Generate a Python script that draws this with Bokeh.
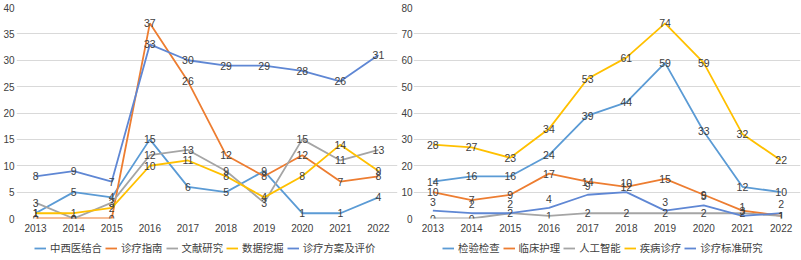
from bokeh.plotting import figure
from bokeh.models import FactorRange, Range1d, Legend, LegendItem, SingleIntervalTicker
from bokeh.layouts import row, column
from bokeh.embed import file_html
from bokeh.resources import INLINE
from bokeh.core.properties import value

years = ["2013", "2014", "2015", "2016", "2017", "2018", "2019", "2020", "2021", "2022"]

# Left chart
left_names = ["中西医结合", "诊疗指南", "文献研究", "数据挖掘", "诊疗方案及评价"]
zhongxiyi = [1, 5, 4, 15, 6, 5, 9, 1, 1, 4]
zhenliao_zhinan = [0, 0, 0, 37, 26, 12, 8, 12, 7, 8]
wenxian = [3, 0, 3, 12, 13, 9, 3, 15, 11, 13]
shuju_wajue = [1, 1, 2, 10, 11, 8, 4, 8, 14, 9]
fangan_pingjia = [8, 9, 7, 33, 30, 29, 29, 28, 26, 31]

# Right chart
right_names = ["检验检查", "临床护理", "人工智能", "疾病诊疗", "诊疗标准研究"]
jianyan = [14, 16, 16, 24, 39, 44, 59, 33, 12, 10]
huli = [10, 7, 9, 17, 14, 12, 15, 9, 3, 1]
rengong = [0, 0, 2, 1, 2, 2, 2, 2, 2, 1]
jibing = [28, 27, 23, 34, 53, 61, 74, 59, 32, 22]
biaozhun = [3, 2, 2, 4, 9, 10, 3, 5, 1, 2]

colors = ["#5B9BD5", "#ED7D31", "#A5A5A5", "#FFC000", "#5F87D4"]

NUM_FONT = "Liberation Sans"
CJK_FONT = "Noto Sans CJK SC"


def make_fig(width, ymax, interval, series, border_right, ystandoff, label_offsets):
    p = figure(width=width, height=236, x_range=FactorRange(*years),
               y_range=Range1d(0, ymax), output_backend="svg", toolbar_location=None,
               min_border_top=7, min_border_bottom=18, min_border_left=0,
               min_border_right=border_right)
    p.outline_line_color = None
    p.background_fill_color = "white"
    p.border_fill_color = "white"
    p.xgrid.grid_line_color = None
    p.ygrid.grid_line_color = "#D9D9D9"
    p.ygrid.grid_line_width = 1
    p.yaxis.ticker = SingleIntervalTicker(interval=interval)
    for ax in (p.xaxis[0], p.yaxis[0]):
        ax.axis_line_color = None
        ax.major_tick_line_color = None
        ax.minor_tick_line_color = None
        ax.major_tick_out = 0
        ax.major_tick_in = 0
        ax.minor_tick_out = 0
        ax.major_label_text_font = NUM_FONT
        ax.major_label_text_font_size = "10px"
        ax.major_label_text_color = "#404040"
    p.yaxis.major_label_standoff = ystandoff
    p.xaxis.major_label_standoff = 5
    for vals, col in zip(series, colors):
        p.line(years, vals, line_color=col, line_width=1.8)
    for vals, off in zip(series, label_offsets):
        p.text(years, vals, text=[str(v) for v in vals], text_align="center",
               text_baseline="middle", text_font=value(NUM_FONT),
               text_font_size="10.5px", text_color="#404040", y_offset=off)
    return p


def make_legend(width, names, x0):
    lp = figure(width=width, height=24, x_range=Range1d(0, 1), y_range=Range1d(0, 1),
                output_backend="svg", toolbar_location=None, min_border=0)
    lp.axis.visible = False
    lp.grid.visible = False
    lp.outline_line_color = None
    items = []
    for name, col in zip(names, colors):
        # proxy renderer kept outside the visible range; only its legend glyph shows
        r = lp.line([-1, -1], [-1, -1], line_color=col, line_width=1.8)
        items.append(LegendItem(label=name, renderers=[r]))
    legend = Legend(items=items, orientation="horizontal", location=(x0, 5),
                    glyph_width=12, glyph_height=14, label_height=14,
                    label_standoff=4, spacing=3, padding=0, margin=0,
                    label_text_font=CJK_FONT, label_text_font_size="10.4px",
                    label_text_color="#404040", border_line_color=None,
                    background_fill_alpha=0)
    lp.add_layout(legend, "center")
    return lp


left = make_fig(398, 40, 5,
                [zhongxiyi, zhenliao_zhinan, wenxian, shuju_wajue, fangan_pingjia],
                1, 2, [0, 0, 0, 0, 0])
right = make_fig(403, 80, 10,
                 [jianyan, huli, rengong, jibing, biaozhun],
                 1, 1, [0, 0, 0, 0, -9])

layout = row(column(left, make_legend(398, left_names, 18), spacing=0),
             column(right, make_legend(403, right_names, 29), spacing=0), spacing=0)
open("out.html", "w").write(file_html(layout, INLINE))
